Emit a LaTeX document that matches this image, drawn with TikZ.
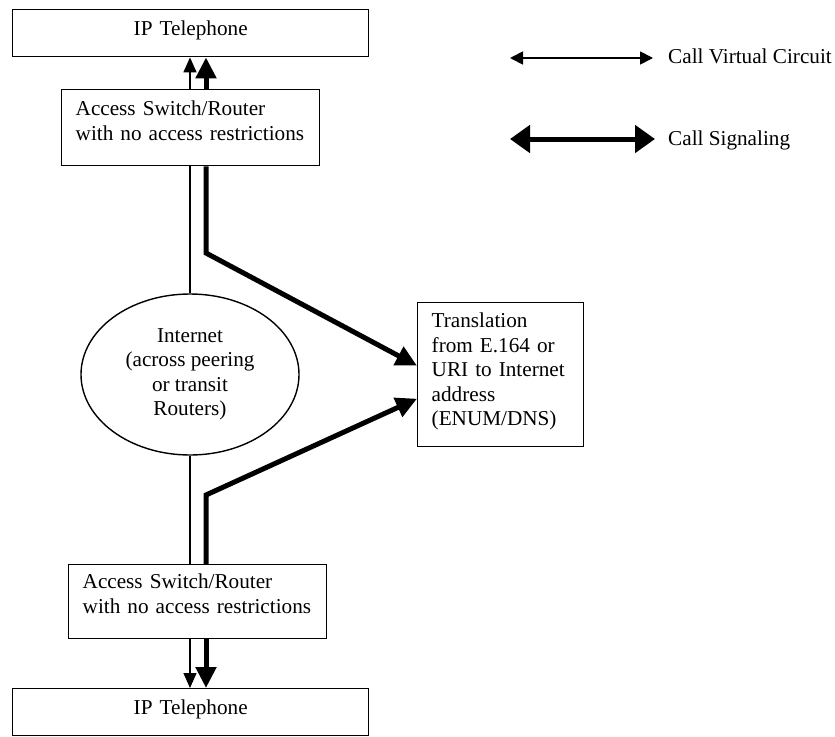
\documentclass[tikz,border=0pt]{standalone}
\usepackage{fontspec}
\setmainfont{Liberation Serif}
\usetikzlibrary{arrows.meta,shapes.geometric}
\begin{document}
\begin{tikzpicture}[x=1pt,y=-1pt,
  every node/.style={font=\fontsize{21.2}{24.5}\selectfont},
  box/.style={draw,line width=1.4pt,rectangle,inner ysep=0pt,anchor=north west},
  leftbox/.style={box,inner xsep=14pt,align=left},
  circuit/.style={line width=1.4pt},
  vcarrow/.style={circuit,-{Triangle[length=15pt,width=13pt]}},
  signal/.style={line width=5pt},
  sigarrow/.style={signal,-{Triangle[length=21pt,width=20pt]}},
]
\useasboundingbox (0,0) rectangle (835,736);

% end points and switches
\node[box,inner xsep=0pt,text width=356pt,align=center,text height=26pt,text depth=21pt]
  (phoneA) at (12,9) {IP Telephone};
\node[leftbox,text width=230pt,text height=26pt,text depth=50pt]
  (switchA) at (61,89) {Access Switch/Router\\with no access restrictions};
\node[draw,ellipse,line width=1.4pt,minimum width=218pt,minimum height=161pt,
  inner sep=0pt,align=center]
  (net) at (190,374.5) {Internet\\(across peering\\or transit\\Routers)};
\node[leftbox,text width=138pt,text height=25pt,text depth=119pt]
  (trans) at (417,302) {Translation\\from E.164 or\\URI to Internet\\address\\(ENUM/DNS)};
\node[leftbox,text width=230pt,text height=24pt,text depth=50pt]
  (switchB) at (68,564) {Access Switch/Router\\with no access restrictions};
\node[box,inner xsep=0pt,text width=356pt,align=center,text height=26pt,text depth=21pt]
  (phoneB) at (12,688) {IP Telephone};

% lanes for the two kinds of path
\coordinate (vc) at (190,0);
\coordinate (sg) at (206,0);
\coordinate (bendA) at (206,253);
\coordinate (bendB) at (206,495);

% call virtual circuit
\draw[vcarrow] (switchA.north -| vc) -- (phoneA.south -| vc);
\draw[circuit] (switchA.south -| vc) -- (net.north);
\draw[circuit] (net.south) -- (switchB.north -| vc);
\draw[vcarrow] (switchB.south -| vc) -- (phoneB.north -| vc);

% call signaling
\draw[sigarrow] (switchA.north -| sg) -- (phoneA.south -| sg);
\draw[sigarrow] (switchA.south -| sg) -- (bendA) -- ([yshift=9pt]trans.west);
\draw[sigarrow] (switchB.north -| sg) -- (bendB) -- ([yshift=-24pt]trans.west);
\draw[sigarrow] (switchB.south -| sg) -- (phoneB.north -| sg);

% legend
\coordinate (vcL) at (510,58);
\coordinate (vcR) at (653,58);
\draw[line width=1.8pt,{Triangle[length=13pt,width=13pt]}-{Triangle[length=13pt,width=13pt]}] (vcL) -- (vcR);
\node[anchor=base west,inner sep=0pt] (vclabel) at (668,63) {Call Virtual Circuit};
\coordinate (sgL) at (510,139);
\coordinate (sgR) at (655,139);
\draw[line width=5pt,{Triangle[length=20pt,width=27pt]}-{Triangle[length=20pt,width=27pt]}] (sgL) -- (sgR);
\node[anchor=base west,inner sep=0pt] (sglabel) at (668,145) {Call Signaling};
\end{tikzpicture}
\end{document}
